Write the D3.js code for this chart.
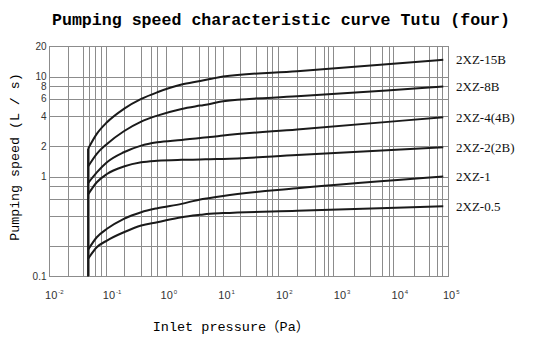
<!DOCTYPE html>
<html><head><meta charset="utf-8">
<script src="https://cdn.jsdelivr.net/npm/d3@7"></script>
<style>body{margin:0;background:#fff}svg{display:block}</style>
</head><body>
<svg id="chart" width="533" height="349"></svg>
<script>
// ---- data ----
const pressure = [0.024, 0.034, 0.051, 0.1, 0.2, 0.38, 1.0, 2.1, 3.1, 5.25, 100, 34000];
const s15B  = [1.89, 2.67, 3.49, 4.75, 5.98, 6.97, 8.32, 9.02, 9.44, 10.0, 11.3, 14.7];
const s8B   = [1.26, 1.69, 2.12, 2.84, 3.55, 4.07, 4.75, 5.13, 5.33, 5.66, 6.34, 7.94];
const s4B   = [0.857, 1.10, 1.39, 1.75, 2.04, 2.20, 2.32, 2.43, 2.48, 2.57, 2.96, 3.92];
const s2B   = [0.661, 0.877, 1.06, 1.26, 1.39, 1.44, 1.47, 1.48, 1.49, 1.50, 1.64, 1.96];
const s1    = [0.185, 0.247, 0.300, 0.378, 0.44, 0.482, 0.533, 0.59, 0.61, 0.64, 0.763, 1.0];
const s05   = [0.150, 0.196, 0.229, 0.277, 0.324, 0.349, 0.392, 0.414, 0.424, 0.431, 0.454, 0.505];
const seriesNames = ["2XZ-15B", "2XZ-8B", "2XZ-4(4B)", "2XZ-2(2B)", "2XZ-1", "2XZ-0.5"];
const seriesValues = [s15B, s8B, s4B, s2B, s1, s05];
const startSegment = [0.1, 1.89];   // vertical line at the first pressure value

const xGridValues = [0.011, 0.02, 0.025, 0.032, 0.04, 0.05,
  0.1, 0.2, 0.29, 0.38, 0.54,
  1, 2, 2.9, 3.8, 5.3,
  10.3, 19.6, 30, 36.6, 46,
  99, 206, 287, 350, 427,
  950, 1840, 2940, 3830, 4670,
  10400, 19600, 27000, 32200];
const yGridValues = [10, 8, 6, 4, 2, 1, 0.8, 0.6, 0.4, 0.2];
const yTickValues = [20, 10, 8, 6, 4, 2, 1, 0.1];
const yTickLabels = ["20", "10", "8", "6", "4", "2", "1", "0.1"];
const xTickExponents = [-2, -1, 0, 1, 2, 3, 4, 5];

const titleText = "Pumping speed characteristic curve Tutu (four)";
const xTitle = "Inlet pressure\uFF08Pa\uFF09";
const yTitle = "Pumping speed (L / s)";

// ---- layout ----
const L = 49.5, R = 448.5, T = 46.5, B = 276.5;
const svg = d3.select("#chart");
const x = d3.scaleLog().domain([0.00516, 41900]).range([L, R]);
const y = d3.scaleLog().domain([0.1, 20]).range([B, T]);
const px = v => Math.round(x(v)) + 0.5;
const py = v => Math.round(y(v)) + 0.5;
const gridColor = "#8c8c8c";

// grid
const g = svg.append("g");
g.selectAll("line.vx").data(xGridValues).join("line")
  .attr("x1", px).attr("x2", px).attr("y1", T).attr("y2", B)
  .attr("stroke", gridColor).attr("stroke-width", 1);
g.selectAll("line.hy").data(yGridValues).join("line")
  .attr("y1", py).attr("y2", py).attr("x1", L).attr("x2", R)
  .attr("stroke", gridColor).attr("stroke-width", 1);
g.append("rect").attr("x", L).attr("y", T).attr("width", R - L).attr("height", B - T)
  .attr("fill", "none").attr("stroke", gridColor).attr("stroke-width", 1);

// y tick labels
svg.append("g").selectAll("text").data(yTickValues).join("text")
  .attr("x", 46.5).attr("y", d => y(d)).attr("dy", "0.34em")
  .attr("text-anchor", "end")
  .attr("font-family", "Liberation Sans, Arial, sans-serif").attr("font-size", 10)
  .attr("fill", "#333")
  .text((d, i) => yTickLabels[i]);

// x tick labels (10^k)
const xt = svg.append("g").selectAll("text").data(xTickExponents).join("text")
  .attr("x", d => Math.min(x(Math.pow(10, d)) - 21, 443))
  .attr("y", 298.5)
  .attr("font-family", "Liberation Sans, Arial, sans-serif").attr("font-size", 11)
  .attr("fill", "#333");
xt.append("tspan").text("10");
xt.append("tspan").attr("dy", -5).attr("dx", 1).attr("font-size", 6).text(d => String(d));

// curves
const line = d3.line().x(d => x(d[0])).y(d => y(d[1])).curve(d3.curveMonotoneX);
svg.append("g").selectAll("path").data(seriesValues).join("path")
  .attr("d", vals => line(pressure.map((p, i) => [p, vals[i]])))
  .attr("fill", "none").attr("stroke", "#1a1a1a").attr("stroke-width", 2);
svg.append("line")
  .attr("x1", x(pressure[0])).attr("x2", x(pressure[0]))
  .attr("y1", y(startSegment[0])).attr("y2", y(startSegment[1]))
  .attr("stroke", "#1a1a1a").attr("stroke-width", 2);

// series labels
svg.append("g").selectAll("text").data(seriesNames).join("text")
  .attr("x", 456)
  .attr("y", (d, i) => y(seriesValues[i][seriesValues[i].length - 1]))
  .attr("dy", "0.35em")
  .attr("font-family", "Liberation Serif, Times New Roman, serif").attr("font-size", 13)
  .attr("fill", "#111")
  .text(d => d);

// titles
svg.append("text").attr("x", 281).attr("y", 25).attr("text-anchor", "middle")
  .attr("font-family", "Liberation Mono, 'Noto Sans CJK SC', monospace")
  .attr("font-weight", "bold").attr("font-size", 16.6).attr("fill", "#000")
  .text(titleText);
svg.append("text").attr("x", 231).attr("y", 331).attr("text-anchor", "middle")
  .attr("font-family", "Liberation Mono, 'Noto Sans CJK SC', monospace")
  .attr("font-size", 13.5).attr("fill", "#000")
  .text(xTitle);
svg.append("text").attr("transform", "translate(19,157) rotate(-90)")
  .attr("text-anchor", "middle")
  .attr("font-family", "Liberation Mono, 'Noto Sans CJK SC', monospace")
  .attr("font-size", 13.3).attr("fill", "#000")
  .text(yTitle);
</script>
</body></html>
